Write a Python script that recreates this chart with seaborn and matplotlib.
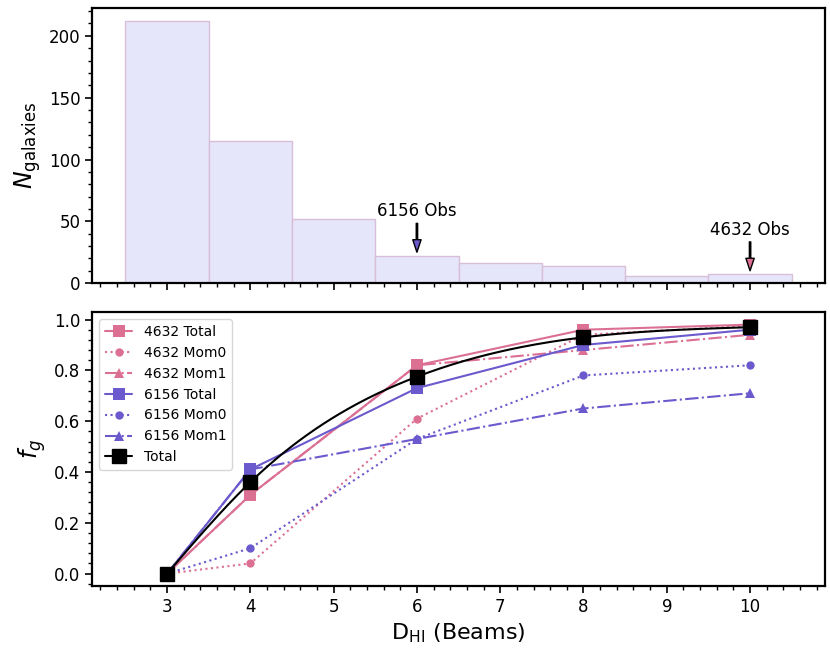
import numpy as np
import pandas as pd
import matplotlib
matplotlib.use("Agg")
import matplotlib.pyplot as plt
import seaborn as sns
from matplotlib.ticker import MultipleLocator

# ---- data ----
bin_centers = [3, 4, 5, 6, 7, 8, 9, 10]
bin_counts = [212, 115, 52, 22, 16, 14, 6, 7]
bin_edges = [2.5, 3.5, 4.5, 5.5, 6.5, 7.5, 8.5, 9.5, 10.5]

beams = [3, 4, 6, 8, 10]
f4632_total = [0.0, 0.31, 0.82, 0.96, 0.98]
f4632_mom0 = [0.0, 0.04, 0.61, 0.94, 0.975]
f4632_mom1 = [0.0, 0.31, 0.82, 0.88, 0.94]
f6156_total = [0.0, 0.41, 0.73, 0.90, 0.96]
f6156_mom0 = [0.0, 0.10, 0.53, 0.78, 0.82]
f6156_mom1 = [0.0, 0.41, 0.53, 0.65, 0.71]
f_total = [0.0, 0.36, 0.775, 0.93, 0.97]

obs_labels = ["6156 Obs", "4632 Obs"]
obs_x = [6, 10]

PINK = "palevioletred"
PURPLE = "slateblue"

sns.set_style("ticks", rc={"axes.edgecolor": "black", "text.color": "black",
                           "axes.labelcolor": "black", "xtick.color": "black",
                           "ytick.color": "black"})
plt.rcParams['font.family'] = ['DejaVu Sans']

fig = plt.figure(figsize=(8.3, 6.6), dpi=100)
ax1 = fig.add_axes([0.111, 0.571, 0.883, 0.417])
ax2 = fig.add_axes([0.111, 0.112, 0.883, 0.415], sharex=ax1)

# ---- histogram ----
hist_df = pd.DataFrame({"D": bin_centers, "N": bin_counts})
sns.histplot(data=hist_df, x="D", weights="N", bins=bin_edges, ax=ax1,
             color="#E6E6FA", edgecolor="#D8BFD8", linewidth=1.0, alpha=1.0)
ax1.set_ylabel(r"$N_{\rm galaxies}$", fontsize=17)
ax1.set_xlabel("")
ax1.tick_params(labelbottom=False)

arrow_colors = [PURPLE, PINK]
for lab, xo, col in zip(obs_labels, obs_x, arrow_colors):
    idx = bin_centers.index(xo)
    top = bin_counts[idx]
    ax1.annotate(lab, xy=(xo, top + 3), xytext=(xo, top + 29),
                 ha="center", va="bottom", fontsize=12, color="black",
                 arrowprops=dict(facecolor=col, edgecolor="black", width=1.0,
                                 headwidth=6, headlength=9, linewidth=1.0))

# ---- fraction curves ----
series = [
    ("4632 Total", f4632_total, PINK, "-", "s", 8),
    ("4632 Mom0", f4632_mom0, PINK, ":", "o", 6),
    ("4632 Mom1", f4632_mom1, PINK, "-.", "^", 7),
    ("6156 Total", f6156_total, PURPLE, "-", "s", 8),
    ("6156 Mom0", f6156_mom0, PURPLE, ":", "o", 6),
    ("6156 Mom1", f6156_mom1, PURPLE, "-.", "^", 7),
]
for name, vals, col, ls, mk, ms in series:
    sns.lineplot(x=beams, y=vals, ax=ax2, color=col, linestyle=ls, marker=mk,
                 markersize=ms, markeredgewidth=0, linewidth=1.5, label=name)


# smooth curve through the Total points (natural cubic spline)
def natural_spline(xk, yk, xs):
    xk = np.asarray(xk, float)
    yk = np.asarray(yk, float)
    n = len(xk)
    h = np.diff(xk)
    A = np.zeros((n, n))
    b = np.zeros(n)
    A[0, 0] = A[-1, -1] = 1
    for i in range(1, n - 1):
        A[i, i - 1] = h[i - 1]
        A[i, i] = 2 * (h[i - 1] + h[i])
        A[i, i + 1] = h[i]
        b[i] = 3 * ((yk[i + 1] - yk[i]) / h[i] - (yk[i] - yk[i - 1]) / h[i - 1])
    c = np.linalg.solve(A, b)
    out = np.empty_like(xs)
    for j, x in enumerate(xs):
        i = min(np.searchsorted(xk, x, side="right") - 1, n - 2)
        i = max(i, 0)
        dx = x - xk[i]
        bi = (yk[i + 1] - yk[i]) / h[i] - h[i] * (2 * c[i] + c[i + 1]) / 3
        di = (c[i + 1] - c[i]) / (3 * h[i])
        out[j] = yk[i] + bi * dx + c[i] * dx ** 2 + di * dx ** 3
    return out


xs = np.linspace(beams[0], beams[-1], 300)
ax2.plot(xs, natural_spline(beams, f_total, xs), color="black", linewidth=1.5)
ax2.plot(beams, f_total, linestyle="none", marker="s", markersize=10,
         color="black")
ax2.plot([], [], color="black", marker="s", markersize=10, linewidth=1.5,
         label="Total")

ax2.set_ylabel(r"$f_g$", fontsize=17)
ax2.set_xlabel(r"D$_{\rm HI}$ (Beams)", fontsize=16)
ax2.set_xticks([3, 4, 5, 6, 7, 8, 9, 10])
ax2.legend(loc="upper left", fontsize=10, frameon=True)

ax1.yaxis.set_minor_locator(MultipleLocator(10))
ax2.yaxis.set_minor_locator(MultipleLocator(0.04))
ax2.xaxis.set_minor_locator(MultipleLocator(0.2))

for ax in (ax1, ax2):
    for sp in ax.spines.values():
        sp.set_visible(True)
        sp.set_linewidth(1.6)
        sp.set_color("black")
    ax.tick_params(which="major", length=5, width=1.2, labelsize=12,
                   direction="out", colors="black")
    ax.tick_params(which="minor", length=3, width=1.0, direction="out",
                   colors="black")

fig.savefig("out.png", dpi=100)
